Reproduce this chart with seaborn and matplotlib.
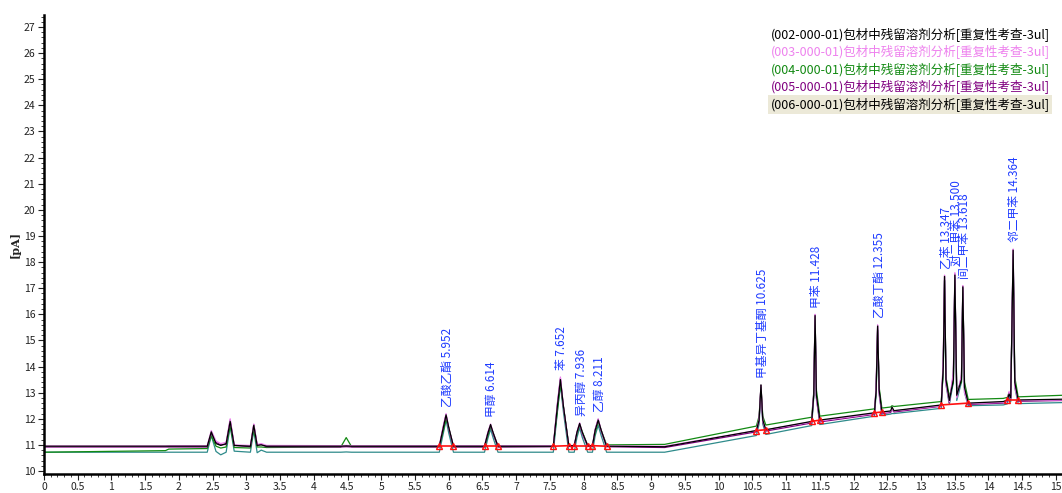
import numpy as np
import pandas as pd
import matplotlib
matplotlib.use('Agg')
import matplotlib.pyplot as plt
import seaborn as sns
from matplotlib.lines import Line2D
from matplotlib.ticker import MultipleLocator

sns.set_theme(style='white')
plt.rcParams['font.family'] = ['Noto Sans CJK SC', 'DejaVu Sans']

# retention time vertices shared by all runs (min)
time = [0.0, 1.8, 1.85, 2.42, 2.48, 2.55, 2.62, 2.70, 2.76, 2.82,
        3.06, 3.11, 3.16, 3.22, 3.30, 4.40, 4.48, 4.56, 5.86, 5.92,
        5.96, 6.00, 6.07, 6.53, 6.58, 6.62, 6.66, 6.73, 7.55, 7.61,
        7.655, 7.70, 7.78, 7.86, 7.90, 7.94, 7.98, 8.06, 8.13, 8.17,
        8.215, 8.26, 8.34, 9.20, 10.56, 10.60, 10.628, 10.655, 10.70, 11.38,
        11.41, 11.43, 11.45, 11.50, 12.31, 12.335, 12.357, 12.38, 12.42, 12.55,
        12.57, 12.60, 13.30, 13.33, 13.349, 13.37, 13.42, 13.48, 13.502, 13.53,
        13.60, 13.62, 13.645, 13.70, 14.22, 14.28, 14.305, 14.33, 14.366, 14.39,
        14.44, 15.1]

sig_002 = [10.95, 10.95, 10.95, 10.95, 11.5, 11.05, 10.98, 11.05, 11.9, 10.98,
           10.95, 11.75, 10.98, 11.0, 10.95, 10.95, 10.96, 10.95, 10.95, 11.67,
           12.15, 11.67, 10.95, 10.95, 11.45, 11.78, 11.45, 10.95, 10.95, 12.48,
           13.5, 12.48, 10.97, 10.97, 11.48, 11.82, 11.48, 10.97, 10.97, 11.56,
           11.95, 11.56, 10.95, 10.93, 11.55, 11.95, 13.3, 11.95, 11.58, 11.9,
           12.9, 15.95, 12.9, 11.95, 12.23, 13.1, 15.55, 13.1, 12.26, 12.3,
           12.45, 12.31, 12.53, 14.0, 17.45, 13.5, 12.7, 13.5, 17.5, 12.9,
           13.5, 17.05, 13.2, 12.6, 12.66, 12.72, 12.95, 12.8, 18.45, 13.4,
           12.72, 12.75]

sig_003 = [10.96, 10.96, 10.97, 10.97, 11.55, 11.15, 11.05, 11.1, 12.0, 11.0,
           10.98, 11.8, 11.02, 11.05, 10.98, 10.97, 10.98, 10.97, 10.97, 11.75,
           12.2, 11.65, 10.97, 10.97, 11.5, 11.8, 11.45, 10.97, 10.97, 12.6,
           13.6, 12.45, 10.98, 10.98, 11.5, 11.85, 11.45, 10.98, 10.98, 11.6,
           12.0, 11.55, 10.96, 10.95, 11.55, 12.0, 13.25, 11.9, 11.58, 11.88,
           13.0, 16.0, 12.7, 11.92, 12.2, 13.3, 15.6, 12.9, 12.23, 12.28,
           12.35, 12.3, 12.5, 14.3, 17.5, 13.3, 12.65, 13.8, 17.6, 12.8,
           13.7, 17.1, 13.0, 12.58, 12.63, 12.7, 13.05, 12.78, 18.5, 13.2,
           12.7, 12.72]

sig_004 = [10.72, 10.78, 10.84, 10.86, 11.35, 10.95, 10.88, 10.92, 11.75, 10.9,
           10.88, 11.6, 10.92, 10.92, 10.9, 10.92, 11.28, 10.93, 10.93, 11.55,
           12.0, 11.65, 10.93, 10.93, 11.35, 11.7, 11.45, 10.93, 10.94, 12.3,
           13.35, 12.45, 10.96, 10.96, 11.4, 11.78, 11.5, 10.97, 10.97, 11.45,
           11.9, 11.55, 11.0, 11.02, 11.72, 12.1, 13.2, 12.1, 11.76, 12.06,
           13.0, 15.9, 13.1, 12.1, 12.38, 13.0, 15.4, 13.2, 12.41, 12.45,
           12.5, 12.47, 12.66, 13.8, 17.3, 13.6, 12.85, 13.4, 17.4, 13.1,
           13.4, 17.0, 13.4, 12.74, 12.78, 12.82, 13.0, 12.9, 18.1, 13.6,
           12.84, 12.9]

sig_005 = [10.92, 10.92, 10.92, 10.92, 11.45, 11.1, 11.0, 11.02, 11.95, 10.98,
           10.93, 11.78, 11.0, 11.02, 10.93, 10.92, 10.93, 10.92, 10.92, 11.7,
           12.15, 11.62, 10.92, 10.92, 11.45, 11.75, 11.4, 10.92, 10.93, 12.55,
           13.55, 12.45, 10.94, 10.94, 11.47, 11.8, 11.42, 10.94, 10.94, 11.58,
           11.98, 11.52, 10.93, 10.9, 11.5, 11.95, 13.28, 11.88, 11.53, 11.84,
           12.95, 15.98, 12.8, 11.88, 12.17, 13.2, 15.58, 13.0, 12.2, 12.24,
           12.35, 12.26, 12.48, 14.2, 17.48, 13.4, 12.62, 13.7, 17.55, 12.85,
           13.6, 17.08, 13.1, 12.55, 12.6, 12.67, 13.0, 12.75, 18.48, 13.3,
           12.67, 12.7]

sig_006 = [10.72, 10.72, 10.72, 10.72, 11.35, 10.75, 10.62, 10.72, 11.7, 10.76,
           10.72, 11.55, 10.7, 10.8, 10.72, 10.72, 10.73, 10.72, 10.72, 11.45,
           11.95, 11.45, 10.72, 10.72, 11.25, 11.6, 11.25, 10.72, 10.72, 12.25,
           13.3, 12.25, 10.72, 10.72, 11.28, 11.65, 11.28, 10.72, 10.72, 11.35,
           11.75, 11.35, 10.72, 10.72, 11.36, 11.8, 13.1, 11.8, 11.4, 11.74,
           12.8, 15.8, 12.8, 11.78, 12.1, 12.95, 15.4, 12.95, 12.13, 12.18,
           12.2, 12.2, 12.4, 13.9, 17.3, 13.3, 12.55, 13.4, 17.4, 12.7,
           13.4, 16.9, 13.0, 12.5, 12.53, 12.57, 12.85, 12.65, 18.3, 13.2,
           12.58, 12.62]

runs = ['(002-000-01)包材中残留溶剂分析[重复性考查-3ul]',
        '(003-000-01)包材中残留溶剂分析[重复性考查-3ul]',
        '(004-000-01)包材中残留溶剂分析[重复性考查-3ul]',
        '(005-000-01)包材中残留溶剂分析[重复性考查-3ul]',
        '(006-000-01)包材中残留溶剂分析[重复性考查-3ul]']
signals = [sig_002, sig_003, sig_004, sig_005, sig_006]
run_colors = ['#000000', '#ee82ee', '#138a13', '#800080', '#2e8b8b']
legend_colors = ['#000000', '#ee82ee', '#138a13', '#800080', '#000000']
draw_order = [runs[4], runs[2], runs[3], runs[1], runs[0]]

# identified peaks
peak_names = ['乙酸乙酯', '甲醇', '苯', '异丙醇', '乙醇', '甲基异丁基酮',
              '甲苯', '乙酸丁酯', '乙苯', '对二甲苯', '间二甲苯', '邻二甲苯']
peak_rt = [5.952, 6.614, 7.652, 7.936, 8.211, 10.625,
           11.428, 12.355, 13.347, 13.500, 13.618, 14.364]
# integration start / end events
peak_start = [5.86, 6.53, 7.55, 7.86, 8.13, 10.56, 11.38, 12.31, 13.30, 14.28]
peak_end = [6.07, 6.73, 7.78, 8.06, 8.34, 10.70, 11.50, 12.42, 13.70, 14.44]

df = pd.DataFrame({
    'time': time * len(runs),
    'signal': sum(signals, []),
    'run': [r for r in runs for _ in time],
})

fig = plt.figure(figsize=(10.62, 4.93), dpi=100)
ax = fig.add_axes([0.0414, 0.0385, 0.9586, 0.9311])

sns.lineplot(data=df, x='time', y='signal', hue='run', hue_order=draw_order,
             palette=dict(zip(runs, run_colors)), estimator=None, sort=False,
             linewidth=0.9, legend=False, ax=ax)

# integration baselines
for s, e in zip(peak_start, peak_end):
    ys = np.interp([s, e], time, sig_002)
    ax.plot([s, e], ys, color='#ff1010', lw=1.2, zorder=5)
    ax.plot([s, e], ys, ls='none', marker='^', ms=5, mfc='none', mec='#ff1010', mew=1, zorder=5)

# peak labels
for name, rt in zip(peak_names, peak_rt):
    near = df[(df['time'] - rt).abs() < 0.02]
    apex = near['signal'].max()
    ax.text(rt + 0.025, apex + 0.25, f'{name} {rt:.3f}', rotation=90, ha='center', va='bottom',
            color='#1f3cff', fontsize=8.5)

ax.set_xlim(0, 15.09)
ax.set_ylim(9.885, 27.46)
ax.xaxis.set_major_locator(MultipleLocator(0.5))
ax.xaxis.set_minor_locator(MultipleLocator(0.1))
ax.yaxis.set_major_locator(MultipleLocator(1))
ax.yaxis.set_minor_locator(MultipleLocator(0.2))
ax.xaxis.set_major_formatter(plt.FuncFormatter(lambda v, p: f'{v:g}'))
ax.tick_params(axis='both', which='major', direction='out', length=4, width=0.8,
               colors='#222222', labelsize=7.5, pad=2, bottom=True, left=True)
ax.tick_params(axis='both', which='minor', direction='out', length=2, width=0.6,
               colors='#222222', bottom=True, left=True)
for side in ['top', 'right']:
    ax.spines[side].set_visible(False)
for side in ['left', 'bottom']:
    ax.spines[side].set_color('black')
    ax.spines[side].set_linewidth(1.8)
ax.set_xlabel('')
ax.set_ylabel('[pA]', fontsize=8, color='#222222', labelpad=2, family='DejaVu Serif',
              fontweight='bold')

handles = [Line2D([], [], linestyle='none') for _ in runs]
leg = ax.legend(handles, runs, loc='upper right', bbox_to_anchor=(0.999, 0.996),
                handlelength=0, handletextpad=0, frameon=False, fontsize=9,
                labelspacing=0.26)
for txt, c in zip(leg.get_texts(), legend_colors):
    txt.set_color(c)
leg.get_texts()[-1].set_bbox(dict(facecolor='#ece9d8', edgecolor='none', pad=1.5))

plt.savefig('out.png', dpi=100)
